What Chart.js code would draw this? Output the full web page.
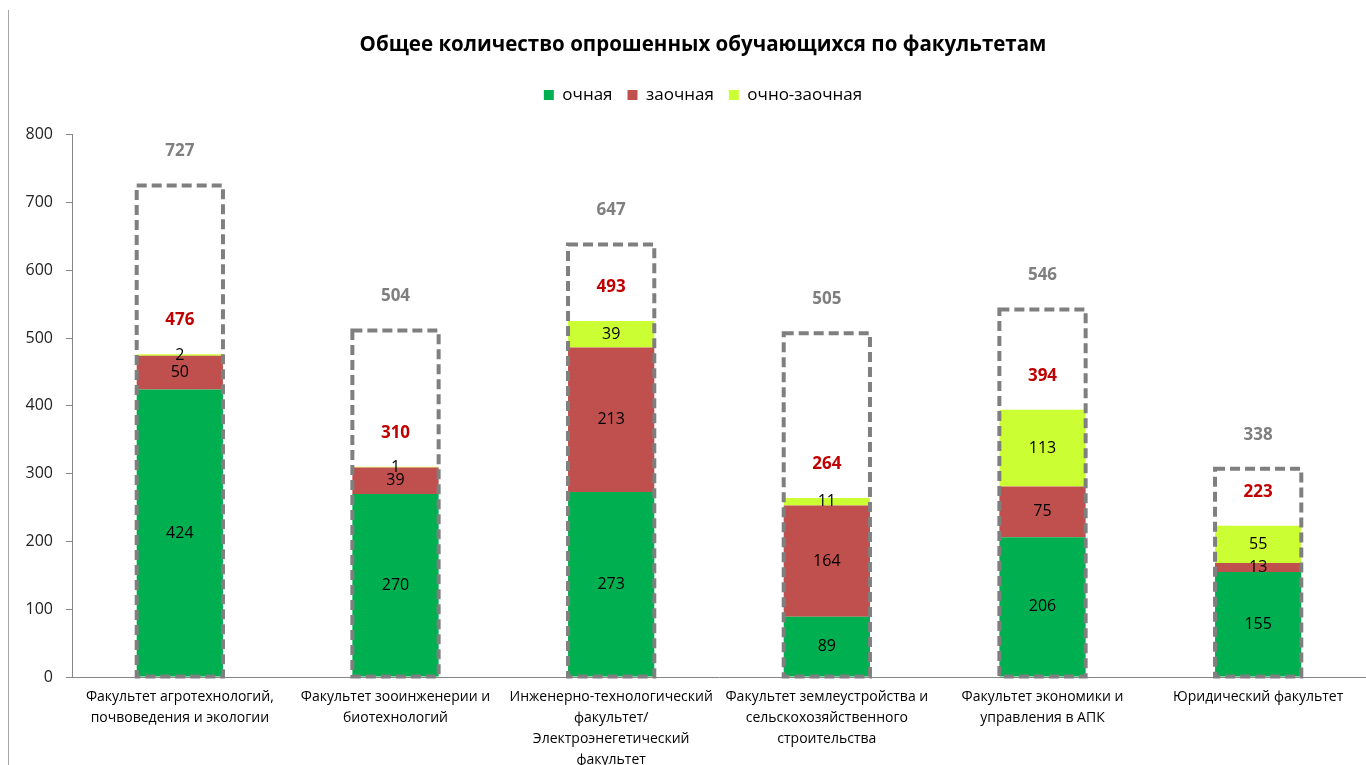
<!DOCTYPE html>
<html lang="ru">
<head>
<meta charset="utf-8">
<title>Общее количество опрошенных обучающихся по факультетам</title>
<script src="https://cdn.jsdelivr.net/npm/chart.js@4/dist/chart.umd.min.js"></script>
<style>
    html, body { margin: 0; padding: 0; background: #fff; overflow: hidden; }
    #wrap { position: relative; width: 1366px; height: 765px; overflow: hidden; }
    #inner { position: absolute; left: 0; top: 0; width: 1398px; height: 765px; }
    #frame { position: absolute; left: 8px; top: 10px; bottom: 0; border-left: 1px solid #a6a6a6; }
</style>
</head>
<body>
<div id="wrap">
    <div id="frame"></div>
    <div id="inner"><canvas id="facultyChart"></canvas></div>
</div>
<script>
// Chart data
const faculties = [
    ['Факультет агротехнологий,', 'почвоведения и экологии'],
    ['Факультет зооинженерии и', 'биотехнологий'],
    ['Инженерно-технологический', 'факультет/', 'Электроэнегетический', 'факультет'],
    ['Факультет землеустройства и', 'сельскохозяйственного', 'строительства'],
    ['Факультет экономики и', 'управления в АПК'],
    ['Юридический факультет']
];
const fullTime = [424, 270, 273, 89, 206, 155];
const extramural = [50, 39, 213, 164, 75, 13];
const partTime = [2, 1, 39, 11, 113, 55];
const surveyedLabels = [476, 310, 493, 264, 394, 223];
const totalStudents = [727, 504, 647, 505, 546, 338];
const totalBoxHeights = [725, 511, 638, 507, 542, 307];
const yMax = 800;
const yStep = 100;

const FONT = '"Open Sans", "Noto Sans", sans-serif';

// Draw dashed total boxes and all value labels
const barLabels = {
    id: 'barLabels',
    afterDatasetsDraw(chart) {
        const ctx = chart.ctx;
        const boxMeta = chart.getDatasetMeta(3);
        ctx.save();

        ctx.strokeStyle = '#7f7f7f';
        ctx.lineWidth = 4;
        ctx.setLineDash([10, 5]);
        boxMeta.data.forEach(bar => {
            ctx.strokeRect(bar.x - bar.width / 2, bar.y, bar.width, bar.base - bar.y);
        });
        ctx.setLineDash([]);

        ctx.textAlign = 'center';
        ctx.textBaseline = 'middle';
        ctx.font = '16px ' + FONT;
        ctx.fillStyle = '#000';
        [0, 1, 2].forEach(i => {
            chart.getDatasetMeta(i).data.forEach((bar, j) => {
                ctx.fillText(chart.data.datasets[i].data[j], bar.x, (bar.y + bar.base) / 2);
            });
        });

        ctx.font = 'bold 17px ' + FONT;
        ctx.fillStyle = '#c00000';
        chart.getDatasetMeta(2).data.forEach((bar, j) => {
            ctx.fillText(surveyedLabels[j], bar.x, bar.y - 34);
        });

        ctx.fillStyle = '#7f7f7f';
        boxMeta.data.forEach((bar, j) => {
            ctx.fillText(totalStudents[j], bar.x, bar.y - 34);
        });
        ctx.restore();
    }
};

const ctx = document.getElementById('facultyChart').getContext('2d');
new Chart(ctx, {
    type: 'bar',
    data: {
        labels: faculties,
        datasets: [
            { label: 'очная', data: fullTime, backgroundColor: '#00b050', stack: 'surveyed' },
            { label: 'заочная', data: extramural, backgroundColor: '#c0504d', stack: 'surveyed' },
            { label: 'очно-заочная', data: partTime, backgroundColor: '#ccff33', stack: 'surveyed' },
            { label: 'total', data: totalBoxHeights, backgroundColor: 'rgba(0,0,0,0)', stack: 'total', grouped: false }
        ]
    },
    options: {
        responsive: true,
        maintainAspectRatio: false,
        animation: false,
        barPercentage: 0.4,
        categoryPercentage: 1,
        layout: { padding: { left: 8, right: 0, top: 0, bottom: 0 } },
        scales: {
            x: {
                grid: { drawOnChartArea: false, drawTicks: false },
                border: { color: '#868686', width: 1 },
                ticks: {
                    color: '#000',
                    font: { family: FONT, size: 14, lineHeight: 1.5 },
                    padding: 10,
                    maxRotation: 0,
                    minRotation: 0,
                    autoSkip: false
                },
                afterFit(scale) { scale.height = 88; }
            },
            y: {
                stacked: true,
                min: 0,
                max: yMax,
                grid: { drawOnChartArea: false, drawTicks: true, tickLength: 6, color: '#868686' },
                border: { color: '#868686', width: 1 },
                ticks: {
                    stepSize: yStep,
                    color: '#222',
                    padding: 13,
                    font: { family: FONT, size: 16 }
                },
                afterFit(scale) { scale.width = 64; }
            },
            // empty strip beyond the visible right edge, keeps title/legend centred like the original
            yRight: {
                position: 'right',
                display: true,
                grid: { display: false },
                border: { display: false },
                ticks: { display: false },
                afterFit(scale) { scale.width = 32; }
            }
        },
        plugins: {
            title: {
                display: true,
                text: 'Общее количество опрошенных обучающихся по факультетам',
                color: '#000',
                font: { family: FONT, size: 20.5, weight: 'bold' },
                padding: { top: 33, bottom: 14 }
            },
            subtitle: {
                display: true,
                text: '',
                weight: 500,
                font: { size: 1, lineHeight: 1 },
                padding: { top: 20, bottom: 0 }
            },
            legend: {
                display: true,
                position: 'top',
                labels: {
                    boxWidth: 10,
                    boxHeight: 10,
                    padding: 15,
                    color: '#000',
                    font: { family: FONT, size: 17 },
                    filter: item => item.datasetIndex < 3
                }
            },
            tooltip: { enabled: false }
        }
    },
    plugins: [barLabels]
});
</script>
</body>
</html>
